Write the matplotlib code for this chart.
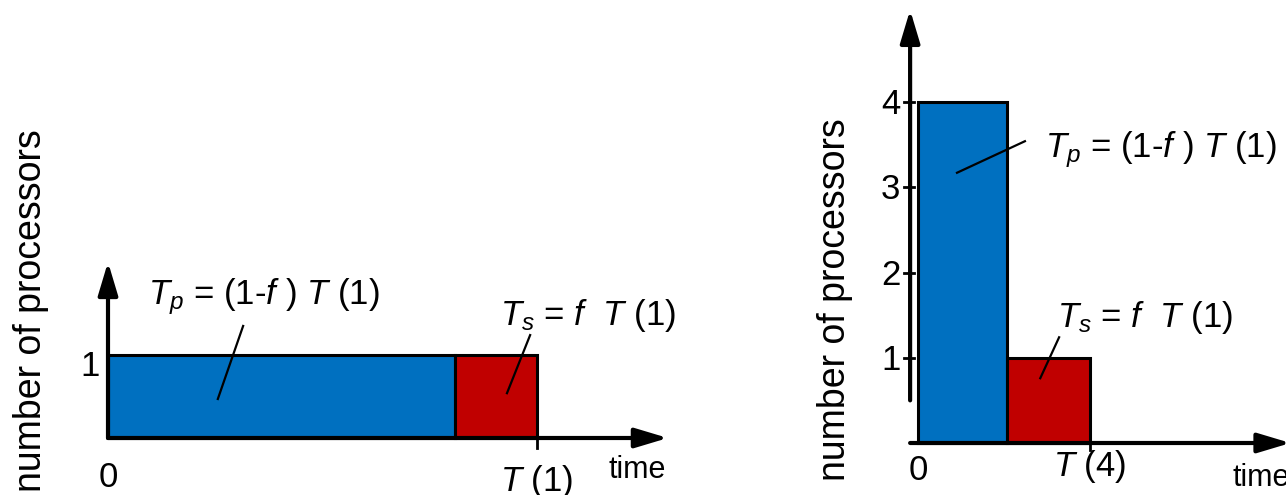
import numpy as np
import matplotlib.pyplot as plt

plt.rcParams['font.family'] = ['Liberation Sans', 'DejaVu Sans']
plt.rcParams['mathtext.fontset'] = 'custom'
plt.rcParams['mathtext.rm'] = 'Liberation Sans'
plt.rcParams['mathtext.it'] = 'Liberation Sans:italic'

# serial fraction f, time in units of T(1)
f = 0.19
t1 = 1.0
procs = [1, 4]
panel_ticks = [[], [1, 2, 3, 4]]
end_labels = ["$T$ (1)", "$T$ (4)"]
tp_text = "$T_p$ = (1-$f$ ) $T$ (1)"
ts_text = "$T_s$ = $f$  $T$ (1)"
blue = "#0070C0"
red = "#C00000"

fig = plt.figure(figsize=(12.86, 4.95), dpi=100)
W, H = 1286, 495


def axes_px(x0, x1, ybot, ytop):
    return fig.add_axes([x0 / W, 1 - ybot / H, (x1 - x0) / W, (ybot - ytop) / H])


def arrow(ax, start, tip):
    ax.annotate("", xy=tip, xytext=start,
                arrowprops=dict(arrowstyle="-|>,head_length=1.0,head_width=0.3",
                                mutation_scale=20, lw=3, color="black",
                                shrinkA=0, shrinkB=0),
                annotation_clip=False)


fs = 25

# ---- left panel: one processor
ax = axes_px(108, 537, 438, 355)
ax.set_xlim(0, t1)
ax.set_ylim(0, 1)
ax.axis("off")
p = procs[0]
tpar = (1 - f) * t1 / p
tser = f * t1
ax.bar(0, p, width=tpar, align="edge", color=blue, edgecolor="black", lw=2.2, clip_on=False)
ax.bar(tpar, 1, width=tser, align="edge", color=red, edgecolor="black", lw=2.2, clip_on=False)
ax.plot([tpar + tser] * 2, [0, -0.12], color="black", lw=2, clip_on=False)
arrow(ax, (0, 0), (1.305, 0))
arrow(ax, (0, 0), (0, 2.12))
ax.text(-0.02, 0.86, "1", ha="right", va="center", fontsize=fs)
ax.text(0, -0.48, "0", ha="center", va="center", fontsize=fs)
ax.text(tpar + tser, -0.53, end_labels[0], ha="center", va="center", fontsize=fs)
ax.text(1.233, -0.39, "time", ha="center", va="center", fontsize=22)
ax.text(0.093, 1.70, tp_text, ha="left", va="center", fontsize=fs)
ax.text(0.914, 1.47, ts_text, ha="left", va="center", fontsize=fs)
ax.plot([0.315, 0.256], [1.35, 0.47], color="black", lw=1.6, clip_on=False)
ax.plot([0.984, 0.930], [1.24, 0.54], color="black", lw=1.6, clip_on=False)
ax.text(-0.18, 1.54, "number of processors", rotation=90, ha="center", va="center", fontsize=27)

# ---- right panel: four processors
ax = axes_px(918, 1090, 443, 102)
p = procs[1]
tpar = (1 - f) * t1 / p
tser = f * t1
ax.set_xlim(0, tpar + tser)
ax.set_ylim(0, p)
ax.axis("off")
ax.bar(0, p, width=tpar, align="edge", color=blue, edgecolor="black", lw=2.2, clip_on=False)
ax.bar(tpar, 1, width=tser, align="edge", color=red, edgecolor="black", lw=2.2, clip_on=False)
ax.plot([tpar + tser] * 2, [0, -0.08], color="black", lw=2, clip_on=False)
arrow(ax, (-0.018, 0), (0.85, 0))
arrow(ax, (-0.018, 0.5), (-0.018, 5.08))
for v in panel_ticks[1]:
    ax.plot([-0.032, -0.01], [v, v], color="black", lw=2, clip_on=False)
    ax.text(-0.04, v - 0.03, str(v), ha="right", va="center", fontsize=fs)
ax.text(0, -0.32, "0", ha="center", va="center", fontsize=fs)
ax.text(tpar + tser, -0.27, end_labels[1], ha="center", va="center", fontsize=fs)
ax.text(0.717, -0.41, "time", ha="left", va="center", fontsize=22)
ax.text(0.29, 3.44, tp_text, ha="left", va="center", fontsize=fs)
ax.text(0.317, 1.47, ts_text, ha="left", va="center", fontsize=fs)
ax.plot([0.244, 0.089], [3.54, 3.17], color="black", lw=1.6, clip_on=False)
ax.plot([0.322, 0.279], [1.24, 0.76], color="black", lw=1.6, clip_on=False)
ax.text(-0.19, 1.68, "number of processors", rotation=90, ha="center", va="center", fontsize=27)

fig.savefig("out.png", dpi=100)
